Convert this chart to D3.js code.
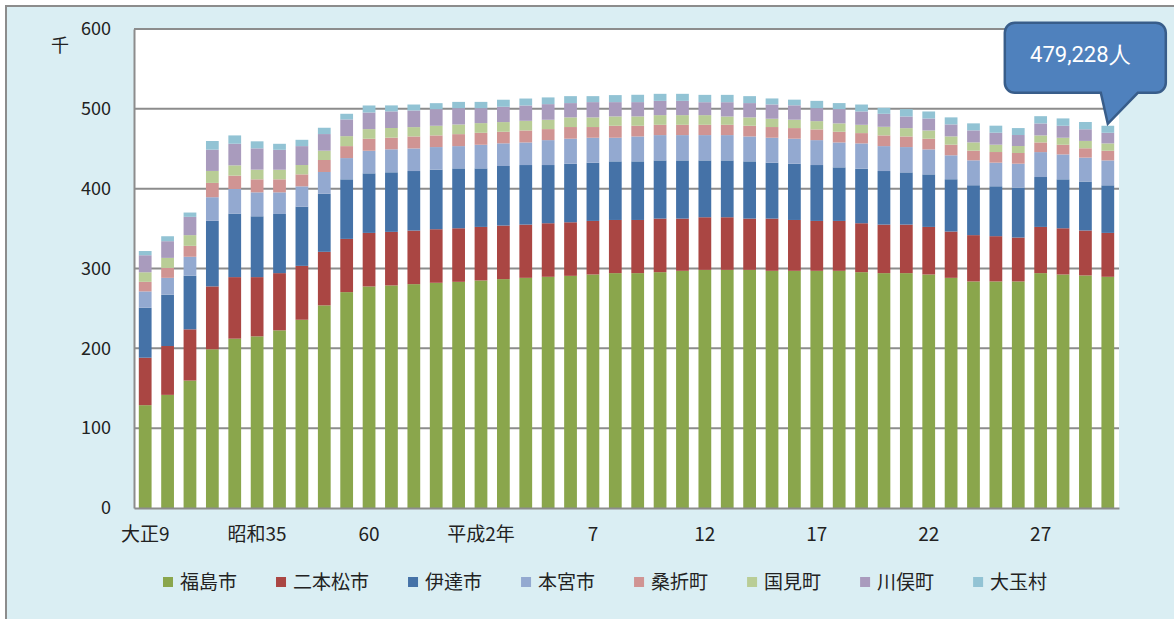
<!DOCTYPE html>
<html>
<head>
<meta charset="utf-8">
<script src="https://cdn.jsdelivr.net/npm/d3@7"></script>
<style>
    body { margin: 0; background: #fff; }
    text { font-family: "Noto Sans CJK JP", "Noto Sans", sans-serif; fill: #222; }
</style>
</head>
<body>
<div id="chart"></div>
<script>
// census years (大正9 ... 平成30)
const years = ["大正9", "昭和5", "昭和15", "昭和25", "昭和30", "昭和35", "昭和40", "昭和45", "昭和50", "昭和55",
    "昭和60", "昭和61", "昭和62", "昭和63", "平成元", "平成2", "平成3", "平成4", "平成5", "平成6",
    "平成7", "平成8", "平成9", "平成10", "平成11", "平成12", "平成13", "平成14", "平成15", "平成16",
    "平成17", "平成18", "平成19", "平成20", "平成21", "平成22", "平成23", "平成24", "平成25", "平成26",
    "平成27", "平成28", "平成29", "平成30"];

// which years get a label, and what it reads
const tickYears = ["大正9", "昭和35", "昭和60", "平成2", "平成7", "平成12", "平成17", "平成22", "平成27"];
const tickText = ["大正9", "昭和35", "60", "平成2年", "7", "12", "17", "22", "27"];

const cities = ["福島市", "二本松市", "伊達市", "本宮市", "桑折町", "国見町", "川俣町", "大玉村"];

// population in thousands
const fukushima = [128.8, 141.7, 159.6, 198.8, 212.1, 215.0, 222.5, 235.8, 253.8, 270.4, 277.5, 278.8, 280.4, 282.1, 283.3, 285.0, 286.7, 288.3, 289.6, 290.8, 292.5, 294.2, 294.2, 295.4, 297.1, 298.3, 298.3, 298.3, 297.1, 297.1, 297.1, 297.1, 295.4, 294.2, 294.2, 292.5, 288.3, 283.8, 283.8, 283.8, 294.2, 292.5, 291.3, 289.6];
const nihonmatsu = [59.5, 61.2, 64.2, 78.8, 77.1, 74.2, 71.7, 67.5, 67.1, 66.7, 67.1, 67.1, 67.1, 67.1, 67.1, 67.1, 67.1, 66.7, 67.1, 67.1, 67.1, 66.6, 66.6, 67.1, 65.4, 65.9, 65.9, 64.2, 65.4, 63.7, 62.5, 62.5, 61.3, 60.8, 60.8, 59.6, 58.0, 58.0, 56.7, 55.0, 57.9, 57.9, 56.3, 55.0];
const date = [62.5, 64.2, 67.1, 82.1, 79.6, 76.2, 74.1, 74.2, 72.9, 74.6, 74.6, 74.6, 74.6, 74.6, 75.0, 73.3, 74.6, 74.6, 72.9, 73.4, 72.9, 73.4, 73.4, 72.9, 72.9, 71.2, 71.2, 71.7, 70.0, 70.5, 70.0, 67.1, 68.3, 67.1, 65.4, 65.8, 65.5, 62.5, 62.5, 62.5, 62.5, 61.3, 61.3, 59.6];
const motomiya = [20.5, 21.2, 23.8, 29.6, 30.8, 30.0, 27.1, 25.4, 27.1, 26.6, 28.3, 28.8, 28.3, 28.3, 27.9, 29.6, 28.4, 28.3, 31.2, 31.3, 31.3, 29.6, 31.2, 31.7, 31.7, 31.7, 31.7, 31.2, 31.3, 31.3, 31.2, 31.2, 31.7, 31.2, 31.7, 31.3, 30.0, 31.2, 29.6, 30.0, 31.2, 31.2, 30.0, 31.2];
const kori = [12.0, 12.5, 13.7, 17.9, 16.7, 16.3, 16.3, 15.0, 15.0, 15.0, 15.0, 14.6, 15.0, 14.6, 15.0, 15.0, 14.5, 15.0, 13.8, 14.6, 13.4, 15.0, 13.4, 12.9, 12.9, 12.9, 12.9, 13.4, 13.4, 13.3, 13.4, 13.4, 12.9, 13.4, 13.3, 13.3, 13.3, 12.1, 13.3, 13.4, 12.1, 12.1, 11.7, 12.1];
const kunimi = [12.0, 12.5, 13.4, 15.0, 12.9, 12.1, 12.0, 11.7, 11.7, 12.5, 12.1, 12.1, 11.7, 12.1, 12.1, 12.1, 12.1, 12.1, 11.7, 12.1, 12.1, 11.7, 11.7, 12.1, 12.1, 12.1, 10.4, 10.5, 10.4, 10.5, 10.4, 10.5, 10.4, 10.8, 10.4, 10.4, 10.4, 10.4, 9.2, 8.7, 8.8, 8.8, 9.2, 9.2];
const kawamata = [21.3, 20.9, 22.9, 26.7, 27.1, 26.7, 25.0, 23.7, 20.8, 20.9, 20.8, 20.8, 20.8, 20.8, 20.4, 18.7, 19.2, 19.2, 19.6, 17.9, 19.1, 17.9, 17.9, 17.9, 17.9, 16.2, 17.9, 17.9, 17.9, 18.0, 16.2, 17.9, 16.7, 16.3, 14.6, 15.0, 15.0, 15.0, 15.0, 13.8, 15.0, 15.0, 14.6, 13.3];
const otama = [5.3, 6.2, 5.4, 10.8, 10.4, 8.8, 7.5, 7.9, 7.9, 7.1, 8.8, 7.5, 7.5, 7.5, 7.9, 7.9, 8.8, 8.7, 8.4, 8.7, 7.5, 8.8, 9.2, 8.8, 8.8, 9.2, 9.2, 8.7, 7.5, 7.1, 9.2, 7.5, 8.7, 7.5, 9.2, 8.8, 8.8, 8.8, 8.8, 8.7, 9.1, 9.2, 9.1, 8.8];

const yTicks = [0, 100, 200, 300, 400, 500, 600];
const calloutText = "479,228人";

const series = [fukushima, nihonmatsu, date, motomiya, kori, kunimi, kawamata, otama];
const colors = ["#8aa64c", "#aa4643", "#4572a7", "#93a9d0", "#d09493", "#b9cd96", "#a99bbd", "#92c3d4"];

const WIDTH = 1174, HEIGHT = 619;
const margin = {top: 29, right: 55, bottom: 111, left: 134};
let plotW = WIDTH - margin.left - margin.right;
let plotH = HEIGHT - margin.top - margin.bottom;

let svg = d3.select("#chart")
    .append("svg")
    .attr("width", WIDTH)
    .attr("height", HEIGHT);

// light blue chart area with grey border (right/bottom run off the picture)
svg.append("rect")
    .attr("x", 6).attr("y", 6)
    .attr("width", WIDTH + 10).attr("height", HEIGHT + 10)
    .attr("fill", "#daeef3")
    .attr("stroke", "#8c8c8c")
    .attr("stroke-width", 2);

let g = svg.append("g")
    .attr("transform", `translate(${margin.left}, ${margin.top})`);

g.append("rect")
    .attr("width", plotW).attr("height", plotH)
    .attr("fill", "#fff");

// build stack table from the arrays
let table = years.map(function(y, i) {
    let row = {year: y};
    cities.forEach(function(c, j) { row[c] = series[j][i]; });
    return row;
});
let stacked = d3.stack().keys(cities)(table);

let x = d3.scaleBand()
    .domain(years)
    .range([0, plotW])
    .paddingInner(0.43)
    .paddingOuter(0.215);

let y = d3.scaleLinear()
    .domain([0, 600])
    .range([plotH, 0]);

// gridlines
g.append("g")
    .selectAll("line")
    .data(yTicks.slice(1))
    .enter()
    .append("line")
    .attr("x1", 0).attr("x2", plotW)
    .attr("y1", d => y(d)).attr("y2", d => y(d))
    .attr("stroke", "#8c8c8c")
    .attr("stroke-width", 2);

// bars
g.append("g")
    .selectAll("g")
    .data(stacked)
    .enter()
    .append("g")
    .attr("fill", (d, i) => colors[i])
    .selectAll("rect")
    .data(d => d)
    .enter()
    .append("rect")
    .attr("x", d => x(d.data.year))
    .attr("y", d => y(d[1]))
    .attr("width", x.bandwidth())
    .attr("height", d => y(d[0]) - y(d[1]));

// axes
let yAxis = g.append("g")
    .call(d3.axisLeft(y).tickValues(yTicks).tickSize(0).tickPadding(23));
yAxis.select(".domain").attr("stroke", "#8c8c8c").attr("stroke-width", 2);
yAxis.selectAll("text").style("font-size", "18px").attr("fill", "#222");

let xAxis = g.append("g")
    .attr("transform", `translate(0, ${plotH})`)
    .call(d3.axisBottom(x)
        .tickValues(tickYears)
        .tickFormat(d => tickText[tickYears.indexOf(d)])
        .tickSize(0).tickPadding(20));
xAxis.select(".domain").attr("stroke", "#8c8c8c").attr("stroke-width", 2);
xAxis.selectAll("text").style("font-size", "19px").attr("fill", "#222");

// unit label
svg.append("text")
    .attr("x", 60).attr("y", 52)
    .style("text-anchor", "middle")
    .style("font-size", "18px")
    .text("千");

// legend
let legend = svg.append("g").attr("transform", "translate(163, 582)");
let lx = 0;
cities.forEach(function(c, i) {
    let item = legend.append("g").attr("transform", `translate(${lx}, 0)`);
    item.append("rect")
        .attr("x", 0).attr("y", -5)
        .attr("width", 10).attr("height", 10)
        .attr("fill", colors[i]);
    let t = item.append("text")
        .attr("x", 17).attr("y", 7)
        .style("font-size", "19px")
        .text(c);
    lx += 17 + t.node().getComputedTextLength() + 39;
});

// callout pointing at the latest bar
let last = table[table.length - 1];
let tipX = margin.left + x(last.year) + x.bandwidth() / 2;
let tipY = margin.top + y(d3.sum(cities, c => last[c])) - 2;
let bx0 = tipX - 103, bx1 = tipX + 58, by0 = tipY - 101, by1 = tipY - 31, r = 10;
let path = d3.path();
path.moveTo(bx0 + r, by0);
path.lineTo(bx1 - r, by0);
path.arcTo(bx1, by0, bx1, by0 + r, r);
path.lineTo(bx1, by1 - r);
path.arcTo(bx1, by1, bx1 - r, by1, r);
path.lineTo(tipX + 30, by1);
path.lineTo(tipX, tipY);
path.lineTo(tipX - 7, by1);
path.lineTo(bx0 + r, by1);
path.arcTo(bx0, by1, bx0, by1 - r, r);
path.lineTo(bx0, by0 + r);
path.arcTo(bx0, by0, bx0 + r, by0, r);
path.closePath();

svg.append("path")
    .attr("d", path.toString())
    .attr("fill", "#4f81bd")
    .attr("stroke", "#385d8a")
    .attr("stroke-width", 2.5);

svg.append("text")
    .attr("x", (bx0 + bx1) / 2 - 5)
    .attr("y", by0 + 39)
    .style("text-anchor", "middle")
    .style("font-family", "'Liberation Sans Narrow', 'Roboto', sans-serif")
    .style("font-size", "22px")
    .style("fill", "#fff")
    .text(calloutText);
</script>
</body>
</html>
